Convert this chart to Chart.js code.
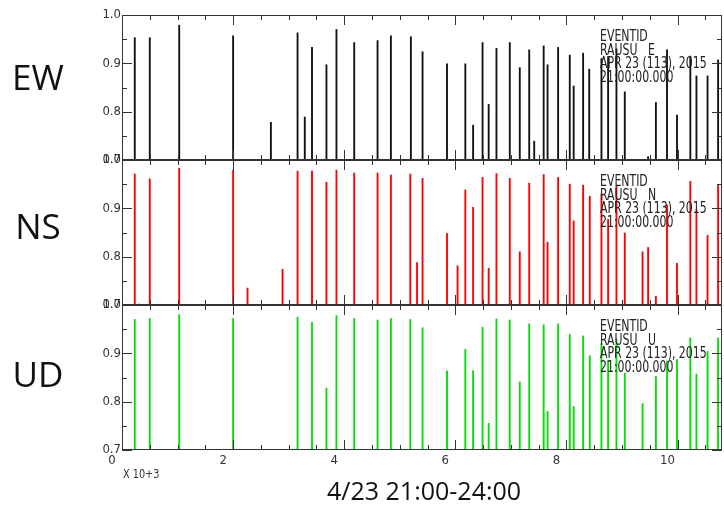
<!DOCTYPE html>
<html>
<head>
<meta charset="utf-8">
<script src="https://cdn.jsdelivr.net/npm/chart.js@4.4.1/dist/chart.umd.min.js"></script>
<style>
  body { margin: 0; background: #fff; }
  #wrap { position: relative; width: 724px; height: 517px; overflow: hidden; }
  canvas { position: absolute; left: 0; }
  .comp { position: absolute; left: 0; width: 76px; text-align: center; font: 35px "Open Sans", sans-serif; line-height: 35px; color: #111; }
  .info { position: absolute; left: 600px; font: 15px "DejaVu Sans Condensed", sans-serif; line-height: 13.5px; color: #222; white-space: pre; transform: scaleX(0.81); transform-origin: 0 0; }
  #title { position: absolute; left: 327px; top: 478px; font: 25px "Open Sans", sans-serif; line-height: 25px; color: #111; white-space: pre; }
  #scale { position: absolute; left: 123px; top: 467px; font: 12px "DejaVu Sans Condensed", sans-serif; color: #333; white-space: pre; transform: scaleX(0.9); transform-origin: 0 0; }
</style>
</head>
<body>
<div id="wrap">
  <canvas id="cEW" width="724" height="165"></canvas>
  <canvas id="cNS" width="724" height="165"></canvas>
  <canvas id="cUD" width="724" height="175"></canvas>
  <div class="comp" style="top:59px">EW</div>
  <div class="comp" style="top:208px">NS</div>
  <div class="comp" style="top:356px">UD</div>
  <div class="info" style="top:30px">EVENTID
RAUSU   E
APR 23 (113), 2015
21:00:00.000</div>
  <div class="info" style="top:175px">EVENTID
RAUSU   N
APR 23 (113), 2015
21:00:00.000</div>
  <div class="info" style="top:320px">EVENTID
RAUSU   U
APR 23 (113), 2015
21:00:00.000</div>
  <div id="scale">X 10+3</div>
  <div id="title">4/23 21:00-24:00</div>
</div>
<script>
// time axis in units of 10^3 s (0 - 3 h), amplitude axis 0.7 - 1.0
const xTicks = [0, 2, 4, 6, 8, 10]
const yTicks = [0.7, 0.8, 0.9, 1.0]
const xMax = 10.8
const yMin = 0.7
const yMax = 1.0

// event times and peak values per component
const ewTimes = [0.23, 0.50, 1.03, 2.00, 2.68, 3.16, 3.29, 3.42, 3.68, 3.86, 4.18, 4.60, 4.84, 5.20, 5.41, 5.85, 6.18, 6.32, 6.49, 6.60, 6.74, 6.98, 7.16, 7.33, 7.42, 7.59, 7.66, 7.85, 8.06, 8.13, 8.30, 8.41, 8.63, 8.75, 8.90, 9.05, 9.47, 9.61, 9.81, 9.99, 10.23, 10.34, 10.54, 10.73]
const ewValues = [0.953, 0.953, 0.979, 0.957, 0.778, 0.963, 0.789, 0.933, 0.897, 0.970, 0.943, 0.947, 0.957, 0.955, 0.924, 0.899, 0.899, 0.772, 0.943, 0.815, 0.931, 0.943, 0.891, 0.928, 0.739, 0.936, 0.897, 0.933, 0.917, 0.853, 0.921, 0.888, 0.910, 0.914, 0.930, 0.841, 0.707, 0.819, 0.928, 0.793, 0.915, 0.874, 0.874, 0.907]

const nsTimes = [0.23, 0.31, 0.50, 1.03, 2.00, 2.26, 2.89, 3.16, 3.42, 3.68, 3.86, 4.18, 4.60, 4.84, 5.19, 5.31, 5.41, 5.85, 6.04, 6.18, 6.32, 6.49, 6.60, 6.74, 6.98, 7.16, 7.33, 7.59, 7.66, 7.85, 8.06, 8.13, 8.30, 8.42, 8.63, 8.75, 8.90, 9.05, 9.37, 9.47, 9.61, 9.81, 9.99, 10.23, 10.34, 10.54, 10.73]
const nsValues = [0.971, 0.702, 0.961, 0.983, 0.979, 0.735, 0.774, 0.977, 0.977, 0.954, 0.979, 0.973, 0.973, 0.969, 0.971, 0.788, 0.962, 0.848, 0.781, 0.938, 0.902, 0.964, 0.776, 0.972, 0.962, 0.810, 0.952, 0.970, 0.830, 0.964, 0.950, 0.874, 0.948, 0.925, 0.930, 0.877, 0.946, 0.849, 0.810, 0.819, 0.718, 0.907, 0.786, 0.956, 0.897, 0.844, 0.949]

const udTimes = [0.23, 0.50, 1.03, 2.00, 3.16, 3.42, 3.68, 3.86, 4.18, 4.60, 4.84, 5.19, 5.41, 5.85, 6.18, 6.32, 6.49, 6.60, 6.74, 6.98, 7.16, 7.33, 7.59, 7.66, 7.85, 8.06, 8.13, 8.30, 8.42, 8.63, 8.75, 8.90, 9.05, 9.37, 9.61, 9.81, 9.99, 10.23, 10.34, 10.54, 10.73]
const udValues = [0.970, 0.972, 0.980, 0.972, 0.975, 0.964, 0.828, 0.978, 0.972, 0.969, 0.972, 0.970, 0.953, 0.864, 0.908, 0.864, 0.954, 0.755, 0.971, 0.969, 0.841, 0.961, 0.959, 0.780, 0.961, 0.939, 0.790, 0.936, 0.895, 0.920, 0.886, 0.930, 0.859, 0.796, 0.852, 0.884, 0.887, 0.932, 0.857, 0.904, 0.932]

const tickFont = { family: '"DejaVu Sans Condensed", sans-serif', size: 13 }

// frame with inward ticks on all four sides (SAC style)
const framePlugin = {
  id: 'frame',
  afterDraw(chart) {
    const { ctx, chartArea: a, scales } = chart
    const sx = scales.x, sy = scales.y
    ctx.save()
    ctx.strokeStyle = '#333'
    ctx.lineWidth = 1
    ctx.strokeRect(a.left + 0.5, a.top + 0.5, a.right - a.left - 1, a.bottom - a.top - 1)
    ctx.beginPath()
    for (let i = 0; i * 0.5 <= xMax; i++) {
      const px = Math.round(sx.getPixelForValue(i * 0.5)) + 0.5
      const len = i % 4 === 0 ? 10 : 5
      ctx.moveTo(px, a.top); ctx.lineTo(px, a.top + len)
      ctx.moveTo(px, a.bottom); ctx.lineTo(px, a.bottom - len)
    }
    for (let j = 0; j <= 6; j++) {
      const py = Math.round(sy.getPixelForValue(yMin + j * 0.05)) + 0.5
      const len = j % 2 === 0 ? 10 : 5
      ctx.moveTo(a.left, py); ctx.lineTo(a.left + len, py)
      ctx.moveTo(a.right, py); ctx.lineTo(a.right - len, py)
    }
    ctx.stroke()
    ctx.restore()
  }
}

function makePanel(id, top, times, values, color, showX) {
  const canvas = document.getElementById(id)
  canvas.style.top = (top - 10) + 'px'
  const points = times.map((t, i) => ({ x: t, y: [yMin, values[i]] }))
  return new Chart(canvas.getContext('2d'), {
    type: 'bar',
    data: {
      datasets: [{
        data: points,
        backgroundColor: color,
        borderWidth: 0,
        barThickness: 1.2,
      }]
    },
    options: {
      responsive: false,
      animation: false,
      devicePixelRatio: 1,
      layout: { padding: { top: 10, bottom: showX ? 0 : 10, left: 0, right: 2 } },
      plugins: { legend: { display: false }, tooltip: { enabled: false } },
      scales: {
        x: {
          type: 'linear',
          min: 0,
          max: xMax,
          offset: false,
          display: showX,
          grid: { display: false, drawTicks: false },
          border: { display: false },
          afterBuildTicks: (s) => { s.ticks = xTicks.map(v => ({ value: v })) },
          afterFit: (s) => { s.height = showX ? 20 : 0 },
          ticks: { font: tickFont, color: '#333', padding: 3, labelOffset: -10, maxRotation: 0, callback: v => String(v) }
        },
        y: {
          min: yMin,
          max: yMax,
          grid: { display: false, drawTicks: false },
          border: { display: false },
          afterBuildTicks: (s) => { s.ticks = yTicks.map(v => ({ value: v })) },
          afterFit: (s) => { s.width = 122 },
          ticks: { font: tickFont, color: '#333', padding: 1, callback: v => v.toFixed(1) }
        }
      }
    },
    plugins: [framePlugin]
  })
}

makePanel('cEW', 15, ewTimes, ewValues, '#111', false)
makePanel('cNS', 160, nsTimes, nsValues, '#ff0000', false)
makePanel('cUD', 305, udTimes, udValues, '#00e000', true)
</script>
</body>
</html>
